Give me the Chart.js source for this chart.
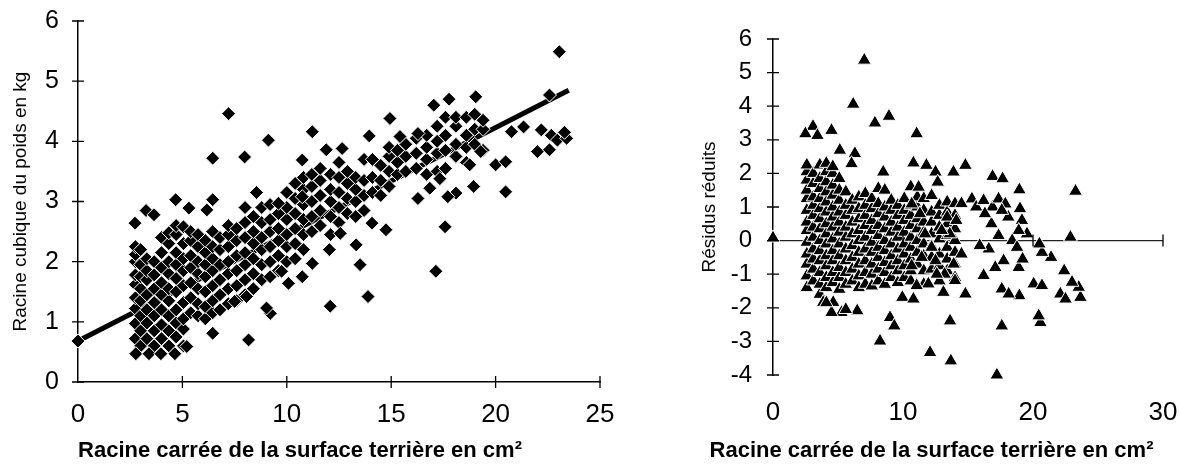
<!DOCTYPE html>
<html>
<head>
<meta charset="utf-8">
<title>Poids et résidus réduits</title>
<script src="https://cdn.jsdelivr.net/npm/chart.js"></script>
<style>
  body { margin: 0; background: #fff; overflow: hidden; }
  .cadre { position: absolute; top: 0; }
</style>
</head>
<body>
<div class="cadre" style="left:0"><canvas id="poidsChart" width="620" height="468"></canvas></div>
<div class="cadre" style="left:700px"><canvas id="residusChart" width="480" height="468"></canvas></div>
<script>
// ---- graphique de gauche : racine cubique du poids ----
const poidsTicksX = [0, 5, 10, 15, 20, 25];
const poidsTicksY = [0, 1, 2, 3, 4, 5, 6];
const droiteX = [0, 23.5];
const droiteY = [0.68, 4.85];
// colonnes du nuage dense : [x, [y...]]
const poidsColonnes = [
  [2.75, [0.47, 0.72, 0.97, 1.22, 1.40, 1.62, 1.78, 2.00, 2.12, 2.25]],
  [3.0,  [0.60, 0.85, 1.10, 1.35, 1.55, 1.75, 1.95, 2.20]],
  [3.3,  [0.72, 0.98, 1.20, 1.45, 1.70, 1.85, 2.05]],
  [3.65, [0.60, 0.85, 1.10, 1.32, 1.55, 1.78, 2.00]],
  [4.0,  [0.72, 0.95, 1.20, 1.45, 1.65, 1.90, 2.15, 2.40]],
  [4.35, [0.60, 0.85, 1.10, 1.35, 1.55, 1.80, 2.00, 2.30, 2.48]],
  [4.7,  [0.75, 0.98, 1.20, 1.50, 1.72, 1.95, 2.15, 2.45, 2.60]],
  [5.05, [0.60, 0.88, 1.05, 1.32, 1.60, 1.85, 2.05, 2.30, 2.58]],
  [5.4,  [1.15, 1.40, 1.65, 1.90, 2.10, 2.35, 2.50]],
  [5.75, [1.10, 1.30, 1.55, 1.80, 2.00, 2.25, 2.45]],
  [6.1,  [1.05, 1.25, 1.50, 1.75, 1.95, 2.15, 2.35]],
  [6.45, [1.15, 1.35, 1.60, 1.85, 2.05, 2.25, 2.50]],
  [6.8,  [1.20, 1.45, 1.70, 1.95, 2.20, 2.40]],
  [7.2,  [1.30, 1.55, 1.80, 2.00, 2.25, 2.45, 2.60]],
  [7.6,  [1.35, 1.60, 1.85, 2.10, 2.35, 2.55]],
  [8.0,  [1.45, 1.70, 1.95, 2.15, 2.40, 2.65, 2.90]],
  [8.4,  [1.55, 1.80, 2.05, 2.30, 2.50, 2.75]],
  [8.8,  [1.70, 1.95, 2.20, 2.40, 2.65, 2.90]],
  [9.2,  [1.75, 2.00, 2.25, 2.50, 2.70, 2.95]],
  [9.6,  [1.85, 2.10, 2.35, 2.55, 2.80]],
  [10.0, [2.00, 2.25, 2.45, 2.70, 2.90, 3.15]],
  [10.4, [2.05, 2.30, 2.55, 2.80, 3.05, 3.30]],
  [10.8, [2.20, 2.45, 2.70, 2.95, 3.20, 3.40]],
  [11.2, [2.50, 2.75, 3.00, 3.25, 3.45]],
  [11.6, [2.60, 2.85, 3.10, 3.35, 3.55]],
  [12.1, [2.45, 2.75, 3.00, 3.20, 3.45]],
  [12.5, [2.65, 2.90, 3.15, 3.40, 3.65]],
  [12.9, [2.80, 3.05, 3.30, 3.50]],
  [13.3, [2.75, 3.00, 3.20, 3.40]],
  [13.7, [2.85, 3.10, 3.35, 3.70]],
  [14.1, [3.15, 3.40, 3.70]],
  [14.5, [3.10, 3.35, 3.60]],
  [14.9, [3.25, 3.50, 3.75, 3.90]],
  [15.3, [3.45, 3.65, 3.85]],
  [15.7, [3.50, 3.75, 3.95]],
  [16.2, [3.55, 3.80, 4.05]],
  [16.7, [3.45, 3.70, 3.90, 4.10]],
  [17.2, [3.50, 3.80, 4.00, 4.25]],
  [17.6, [3.55, 3.85, 4.10, 4.40]],
  [18.1, [3.75, 3.95, 4.25, 4.40]],
  [18.6, [3.65, 3.90, 4.10, 4.40]],
  [19.0, [3.95, 4.20, 4.45]],
  [19.4, [3.85, 4.20, 4.35]]
];
// points isolés : [x, y]
const poidsIsoles = [
  [0, 0.68], [23.05, 5.49], [7.21, 4.46], [9.12, 4.02], [11.22, 4.16], [6.45, 3.72], [7.98, 3.74],
  [17.04, 4.60], [17.77, 4.70], [19.05, 4.74], [14.94, 4.38], [13.95, 4.09], [15.42, 4.08], [16.28, 4.13],
  [11.89, 3.86], [12.65, 3.88], [10.74, 3.69], [21.34, 4.24], [22.19, 4.19], [22.58, 4.77], [22.67, 4.10],
  [22.96, 4.02], [22.0, 3.83], [22.58, 3.86], [20.76, 4.16], [20.0, 3.61], [20.48, 3.66], [20.48, 3.16],
  [19.29, 3.83], [18.95, 3.25], [18.76, 3.61], [18.1, 3.14], [17.71, 3.08], [17.58, 2.58], [17.14, 1.84],
  [16.28, 3.05], [16.85, 3.22], [17.33, 3.38], [14.75, 2.53], [14.08, 2.64], [13.51, 1.95], [13.89, 1.42],
  [12.08, 1.26], [13.32, 2.28], [12.04, 2.20], [9.21, 1.14], [9.03, 1.23], [8.17, 0.70], [6.45, 0.81],
  [5.21, 0.59], [4.64, 0.47], [2.77, 0.47], [3.40, 0.47], [3.97, 0.47], [2.73, 2.64], [3.26, 2.85],
  [3.64, 2.78], [4.68, 3.03], [5.31, 2.89], [6.17, 2.86], [6.45, 3.03], [8.55, 3.15], [9.6, 2.97],
  [10.74, 3.08], [10.08, 1.64], [10.74, 1.75], [9.75, 1.84], [7.5, 1.34], [8.07, 1.42], [11.22, 1.97],
  [12.56, 2.47], [23.4, 4.05], [23.3, 4.15]
];

// ---- graphique de droite : résidus réduits ----
const residusTicksX = [0, 10, 20, 30];
const residusTicksY = [-4, -3, -2, -1, 0, 1, 2, 3, 4, 5, 6];
const zeroX = [0, 30];
const zeroY = [0, 0];
const residusColonnes = [
  [2.6,  [-1.40, -1.05, -0.70, -0.40, -0.05, 0.30, 0.55, 0.90, 1.25, 1.50, 1.80, 2.05, 2.25]],
  [3.1,  [-1.20, -0.85, -0.55, -0.25, 0.10, 0.40, 0.75, 1.05, 1.30, 1.70, 2.00]],
  [3.6,  [-1.60, -1.30, -0.95, -0.60, -0.30, 0.00, 0.35, 0.65, 0.95, 1.25, 1.55, 1.85, 2.25]],
  [4.1,  [-1.40, -1.10, -0.75, -0.45, -0.10, 0.20, 0.50, 0.85, 1.15, 1.45, 1.75, 2.05, 2.30]],
  [4.6,  [-1.25, -0.95, -0.60, -0.30, 0.05, 0.40, 0.70, 1.00, 1.35, 1.65, 2.00, 2.20]],
  [5.1,  [-1.45, -1.10, -0.80, -0.45, -0.10, 0.25, 0.55, 0.85, 1.20, 1.50, 1.85]],
  [5.6,  [-1.30, -0.95, -0.60, -0.25, 0.10, 0.40, 0.75, 1.05, 1.45]],
  [6.1,  [-1.20, -0.85, -0.50, -0.15, 0.20, 0.55, 0.90, 1.20]],
  [6.6,  [-1.40, -1.05, -0.70, -0.35, 0.00, 0.30, 0.65, 0.95, 1.30]],
  [7.1,  [-1.30, -0.95, -0.60, -0.25, 0.10, 0.45, 0.75, 1.05, 1.40]],
  [7.6,  [-1.35, -1.00, -0.70, -0.35, -0.05, 0.30, 0.60, 0.95, 1.25]],
  [8.1,  [-1.20, -0.85, -0.50, -0.20, 0.15, 0.45, 0.80, 1.10, 1.55]],
  [8.6,  [-1.30, -0.95, -0.65, -0.30, 0.00, 0.35, 0.70, 1.00, 1.50]],
  [9.1,  [-1.10, -0.75, -0.45, -0.10, 0.25, 0.55, 0.90, 1.20]],
  [9.6,  [-1.25, -0.90, -0.60, -0.25, 0.10, 0.40, 0.75, 1.05]],
  [10.1, [-1.10, -0.75, -0.40, -0.10, 0.25, 0.60, 0.90, 1.25]],
  [10.6, [-1.20, -0.90, -0.55, -0.20, 0.10, 0.45, 0.75, 1.05, 1.60]],
  [11.1, [-0.70, -0.35, 0.00, 0.35, 0.65, 1.00, 1.30]],
  [11.6, [-1.30, -0.90, -0.45, -0.10, 0.25, 0.55, 0.90, 1.25]],
  [12.2, [-0.85, -0.50, -0.15, 0.20, 0.55, 0.85]],
  [12.8, [-1.20, -0.75, -0.40, 0.05, 0.40, 0.75, 1.05]],
  [13.4, [-0.90, -0.55, -0.20, 0.15, 0.50, 0.85, 1.15]],
  [14.0, [-1.10, -0.70, -0.35, 0.00, 0.35, 0.75, 1.10]]
];
const residusIsoles = [
  [0, 0.08], [7.02, 5.37], [6.17, 4.06], [8.92, 3.70], [7.84, 3.50], [3.08, 3.40], [2.49, 3.18],
  [3.42, 3.13], [4.50, 3.28], [11.05, 3.18], [5.14, 2.69], [6.30, 2.59], [6.04, 2.29], [10.8, 2.31],
  [11.8, 2.24], [12.5, 2.04], [13.88, 2.04], [14.8, 2.24], [12.67, 1.74], [8.48, 2.04], [16.89, 1.91],
  [17.66, 1.84], [18.95, 1.51], [23.27, 1.47], [22.88, 0.10], [8.23, -2.99], [9.0, -2.29], [9.33, -2.54],
  [12.08, -3.33], [13.68, -3.58], [13.62, -2.39], [17.22, -4.0], [17.6, -2.54], [20.57, -2.44],
  [20.44, -2.24], [4.63, -1.84], [3.86, -1.84], [5.27, -2.14], [4.5, -2.14], [6.48, -2.09],
  [9.95, -1.69], [10.8, -1.74], [13.11, -1.54], [14.8, -1.59], [18.95, -1.64], [17.6, -1.44],
  [18.13, -1.59], [20.05, -1.29], [20.69, -1.34], [22.1, -1.59], [22.5, -1.74], [23.65, -1.69],
  [23.52, -1.39], [23.0, -1.24], [22.4, -0.90], [21.39, -0.50], [20.69, -0.35], [20.49, -0.10],
  [19.54, 0.20], [16.2, -1.04], [18.9, -0.80], [19.2, -0.55], [17.74, -0.60], [17.1, -0.80],
  [16.6, -0.25], [15.9, -0.15], [15.3, 1.24], [15.63, 1.00], [16.2, 1.19], [16.89, 1.00],
  [17.35, 1.24], [17.87, 1.09], [19.0, 0.95], [19.15, 0.60], [18.9, 0.30], [18.4, 0.00],
  [18.77, -0.20], [17.35, 0.15], [16.8, 0.50], [18.1, 0.70], [17.6, 0.90], [16.3, 0.80],
  [14.5, 1.10], [13.4, 0.70], [14.1, 0.60], [13.6, 0.20], [12.98, 0.30], [14.5, -0.40],
  [13.9, -0.70], [14.0, -1.19], [13.2, -1.0], [12.6, -1.0], [12.5, -0.6], [11.95, -1.29],
  [11.05, -1.34], [10.67, -0.75], [11.44, -0.50], [12.2, -0.20], [11.7, 0.20], [11.3, 0.80],
  [11.2, 1.59], [12.2, 1.34], [10.67, 1.09], [4.1, -1.85], [5.6, -2.05]
];

function aplatir(colonnes, isoles) {
  const pts = [];
  colonnes.forEach(([x, ys]) => ys.forEach(y => pts.push({ x, y })));
  isoles.forEach(([x, y]) => pts.push({ x, y }));
  return pts;
}

// graduations qui traversent les axes
const croixGraduations = {
  id: 'croixGraduations',
  afterDatasetsDraw(chart, args, opts) {
    const { ctx, chartArea, scales } = chart;
    const axeX = opts.axeXEn === undefined ? chartArea.bottom : scales.y.getPixelForValue(opts.axeXEn);
    ctx.save();
    ctx.strokeStyle = '#000';
    ctx.lineWidth = 1.3;
    ctx.beginPath();
    scales.y.ticks.forEach(t => {
      const py = scales.y.getPixelForValue(t.value);
      ctx.moveTo(chartArea.left - 6, py);
      ctx.lineTo(chartArea.left + 6, py);
    });
    scales.x.ticks.forEach(t => {
      if (t.value === 0) return;
      const px = scales.x.getPixelForValue(t.value);
      ctx.moveTo(px, axeX - 6);
      ctx.lineTo(px, axeX + 6);
    });
    ctx.stroke();
    ctx.restore();
  }
};

const police = '"Liberation Sans", Arial, sans-serif';
Chart.defaults.font.family = police;
Chart.defaults.color = '#000';

const titreX = 'Racine carrée de la surface terrière en cm²';

// pas de marge automatique des étiquettes : la zone du graphique est fixée par layout.padding
const sansMargeX = h => s => { s.height = h; s.paddingLeft = 0; s.paddingRight = 0; };
const sansMargeY = w => s => { s.width = w; s.paddingTop = 0; s.paddingBottom = 0; };

new Chart(document.getElementById('poidsChart'), {
  type: 'scatter',
  data: {
    datasets: [
      {
        type: 'line',
        data: droiteX.map((x, i) => ({ x, y: droiteY[i] })),
        borderColor: '#000',
        borderWidth: 5,
        pointRadius: 0,
        order: 2,
        clip: false
      },
      {
        data: aplatir(poidsColonnes, poidsIsoles),
        pointStyle: 'rectRot',
        pointRadius: 7,
        backgroundColor: '#000',
        borderColor: '#fff',
        borderWidth: 1,
        order: 1,
        clip: false
      }
    ]
  },
  options: {
    responsive: false,
    animation: false,
    layout: { padding: { top: 21, right: 20, left: 0, bottom: 0 } },
    plugins: {
      legend: { display: false },
      tooltip: { enabled: false },
      title: { display: true, position: 'bottom', text: titreX, font: { size: 22, weight: 'bold' }, padding: { top: 0, bottom: 4 } },
      croixGraduations: {}
    },
    scales: {
      x: {
        type: 'linear', min: 0, max: 25,
        afterBuildTicks: s => { s.ticks = poidsTicksX.map(v => ({ value: v })); },
        afterFit: sansMargeX(55.6),
        grid: { drawOnChartArea: false, drawTicks: false },
        border: { display: true, color: '#000', width: 1.5 },
        ticks: { font: { size: 26 }, padding: 17, maxRotation: 0, autoSkip: false }
      },
      y: {
        type: 'linear', min: 0, max: 6,
        afterBuildTicks: s => { s.ticks = poidsTicksY.map(v => ({ value: v })); },
        afterFit: sansMargeY(78),
        grid: { drawOnChartArea: false, drawTicks: false },
        border: { display: true, color: '#000', width: 1.5 },
        ticks: { font: { size: 25 }, padding: 19, autoSkip: false },
        title: { display: true, text: 'Racine cubique du poids en kg', font: { size: 19 }, padding: { top: 9, bottom: 0 } }
      }
    }
  },
  plugins: [croixGraduations]
});

new Chart(document.getElementById('residusChart'), {
  type: 'scatter',
  data: {
    datasets: [
      {
        type: 'line',
        data: zeroX.map((x, i) => ({ x, y: zeroY[i] })),
        borderColor: '#222',
        borderWidth: 1.2,
        pointRadius: 0,
        order: 2,
        clip: false
      },
      {
        data: aplatir(residusColonnes, residusIsoles),
        pointStyle: 'triangle',
        pointRadius: 8,
        backgroundColor: '#000',
        borderColor: '#fff',
        borderWidth: 1,
        order: 1,
        clip: false
      }
    ]
  },
  options: {
    responsive: false,
    animation: false,
    layout: { padding: { top: 39, right: 17, left: 0, bottom: 0 } },
    plugins: {
      legend: { display: false },
      tooltip: { enabled: false },
      title: { display: true, position: 'bottom', text: titreX, font: { size: 22, weight: 'bold' }, padding: { top: 0, bottom: 4 } },
      croixGraduations: { axeXEn: 0 }
    },
    scales: {
      x: {
        type: 'linear', min: 0, max: 30,
        afterBuildTicks: s => { s.ticks = residusTicksX.map(v => ({ value: v })); },
        afterFit: sansMargeX(62.6),
        grid: { display: false, drawTicks: false },
        border: { display: false },
        ticks: { font: { size: 26 }, padding: 22, maxRotation: 0, autoSkip: false }
      },
      y: {
        type: 'linear', min: -4, max: 6,
        afterBuildTicks: s => { s.ticks = residusTicksY.map(v => ({ value: v })); },
        afterFit: sansMargeY(73),
        grid: { drawOnChartArea: false, drawTicks: false },
        border: { display: true, color: '#000', width: 1.5 },
        ticks: { font: { size: 24 }, padding: 21, autoSkip: false },
        title: { display: true, text: 'Résidus réduits', font: { size: 19, lineHeight: 1 }, padding: { top: 0, bottom: 0 } }
      }
    }
  },
  plugins: [croixGraduations]
});
</script>
</body>
</html>
